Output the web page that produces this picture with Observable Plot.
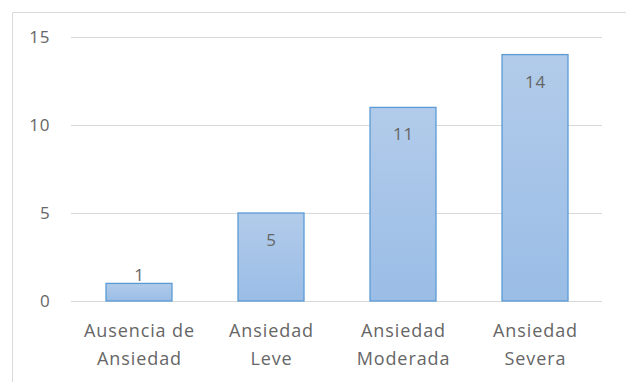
<!DOCTYPE html>
<html>
<head>
<meta charset="utf-8">
<script src="https://cdn.jsdelivr.net/npm/d3@7"></script>
<script src="https://cdn.jsdelivr.net/npm/@observablehq/plot@0.6"></script>
<style>
  html, body { margin: 0; padding: 0; background: #fff; }
  #chart { width: 626px; height: 382px; overflow: hidden; }
  #chart text { letter-spacing: 0.9px; }
</style>
</head>
<body>
<div id="chart"></div>
<script>
const categories = ["Ausencia de\nAnsiedad", "Ansiedad\nLeve", "Ansiedad\nModerada", "Ansiedad\nSevera"];
const values = [1, 5, 11, 14];
const yTicks = [0, 5, 10, 15];

const data = categories.map((c, i) => ({category: c, value: values[i]}));

const W = 626, H = 382;
const fontFamily = "'Open Sans', 'Noto Sans', sans-serif";
const textColor = "#666666";

function defsMark() {
  const ns = "http://www.w3.org/2000/svg";
  const g = document.createElementNS(ns, "g");
  const defs = document.createElementNS(ns, "defs");
  const grad = document.createElementNS(ns, "linearGradient");
  grad.setAttribute("id", "barGrad");
  grad.setAttribute("x1", "0"); grad.setAttribute("y1", "0");
  grad.setAttribute("x2", "0"); grad.setAttribute("y2", "1");
  [["0%", "#b2cbea"], ["100%", "#9abde6"]].forEach(([o, c]) => {
    const s = document.createElementNS(ns, "stop");
    s.setAttribute("offset", o); s.setAttribute("stop-color", c);
    grad.appendChild(s);
  });
  defs.appendChild(grad);
  g.appendChild(defs);
  // outer chart-area frame (left and top edges)
  const l1 = document.createElementNS(ns, "line");
  l1.setAttribute("x1", 12.5); l1.setAttribute("x2", 12.5);
  l1.setAttribute("y1", 12.5); l1.setAttribute("y2", H);
  l1.setAttribute("stroke", "#d9d9d9");
  const l2 = document.createElementNS(ns, "line");
  l2.setAttribute("x1", 12.5); l2.setAttribute("x2", W);
  l2.setAttribute("y1", 12.5); l2.setAttribute("y2", 12.5);
  l2.setAttribute("stroke", "#d9d9d9");
  g.appendChild(l1); g.appendChild(l2);
  return g;
}

const chart = Plot.plot({
  width: W,
  height: H,
  marginLeft: 71,
  marginRight: 24,
  marginTop: 37,
  marginBottom: 81,
  style: {fontFamily, fontSize: "17px", color: textColor, background: "#fff"},
  x: {domain: categories, paddingInner: 0.5, paddingOuter: 0.25, label: null},
  y: {domain: [0, 15], ticks: yTicks, label: null},
  marks: [
    defsMark,
    Plot.ruleY(yTicks, {stroke: "#d9d9d9", strokeWidth: 1}),
    Plot.barY(data, {x: "category", y: "value", fill: "url(#barGrad)", stroke: "#5b9bd5", strokeWidth: 1.3}),
    Plot.text(data.filter(d => d.value >= 3), {x: "category", y: "value", text: d => String(d.value), dy: 27, fill: textColor, fontSize: 17}),
    Plot.text(data.filter(d => d.value < 3), {x: "category", y: "value", text: d => String(d.value), dy: -8, fill: textColor, fontSize: 17}),
    Plot.axisY(yTicks, {tickSize: 0, tickPadding: 21, fontSize: 17, fill: textColor, label: null}),
    Plot.axisX({tickSize: 0, tickPadding: 16, fontSize: 18, fill: textColor, lineHeight: 1.55, label: null})
  ]
});

document.getElementById("chart").appendChild(chart);
</script>
</body>
</html>
